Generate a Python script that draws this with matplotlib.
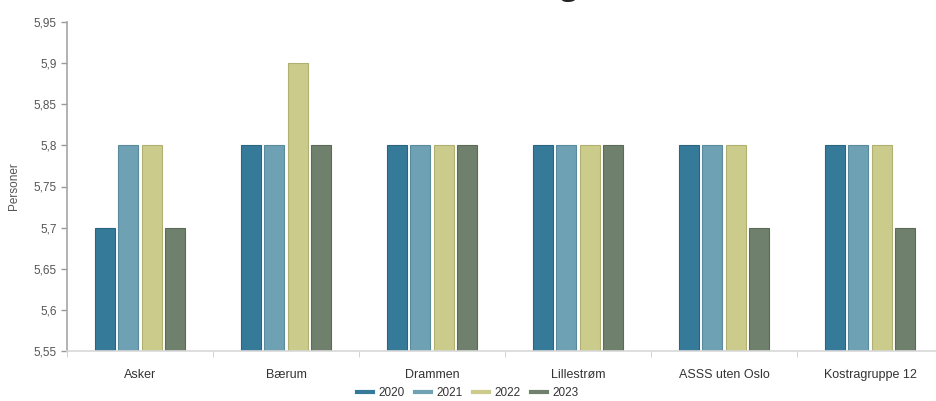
import matplotlib
matplotlib.use("Agg")
import matplotlib.pyplot as plt
from matplotlib.lines import Line2D
import numpy as np

# Data
categories = ["Asker", "Bærum", "Drammen", "Lillestrøm", "ASSS uten Oslo", "Kostragruppe 12"]
years = ["2020", "2021", "2022", "2023"]
v2020 = [5.7, 5.8, 5.8, 5.8, 5.8, 5.8]
v2021 = [5.8, 5.8, 5.8, 5.8, 5.8, 5.8]
v2022 = [5.8, 5.9, 5.8, 5.8, 5.8, 5.8]
v2023 = [5.7, 5.8, 5.8, 5.8, 5.7, 5.7]
yticks = [5.55, 5.6, 5.65, 5.7, 5.75, 5.8, 5.85, 5.9, 5.95]

COLORS = ["#367a9a", "#6fa1b4", "#cbcb8b", "#6f806c"]
EDGES = ["#2a6580", "#5b8a9c", "#b0b072", "#5c6b59"]

plt.rcParams['font.family'] = ['Liberation Sans', 'DejaVu Sans']

fig = plt.figure(figsize=(9.36, 4.01), dpi=100)
ax = fig.add_axes([67 / 936, 50 / 401, 876 / 936, 329 / 401])

series = [v2020, v2021, v2022, v2023]
x = np.arange(len(categories))
pitch = 0.158
width = 0.137
for i, vals in enumerate(series):
    offs = (i - 1.5) * pitch
    ax.bar(x + offs, np.array(vals) - 5.55, bottom=5.55, width=width,
           color=COLORS[i], edgecolor=EDGES[i], linewidth=0.8, zorder=2)

ax.set_xlim(-0.5, len(categories) - 0.5)
ax.set_ylim(5.55, 5.95)
ax.set_yticks(yticks)
ax.set_yticklabels([("%g" % t).replace(".", ",") for t in yticks])
ax.tick_params(axis='y', colors="#999999", labelcolor="#555555", labelsize=8.5,
               length=4, width=1)

ax.set_xticks(x)
ax.set_xticklabels(categories)
ax.tick_params(axis='x', length=0, labelsize=9, labelcolor="#333333", pad=13)
ax.set_xticks(np.arange(len(categories) + 1) - 0.5, minor=True)
ax.tick_params(axis='x', which='minor', length=4, color="#cccccc")

for s in ["top", "right"]:
    ax.spines[s].set_visible(False)
ax.spines["left"].set_color("#a6a6a6")
ax.spines["left"].set_linewidth(1.2)
ax.spines["bottom"].set_color("#d8d8d8")
ax.spines["bottom"].set_linewidth(1.2)

ax.set_ylabel("Personer", fontsize=8.5, color="#555555", labelpad=10)

handles = [Line2D([0], [0], color=c, lw=3) for c in COLORS]
fig.legend(handles, years, loc="lower center", bbox_to_anchor=(0.5, -0.022),
           ncol=4, frameon=False, fontsize=8.5, handlelength=1.3,
           handletextpad=0.5, columnspacing=0.9, labelcolor="#333333")

# title sits above the visible area, only its descenders show
fig.text(649 / 936, 1.0 + 5 / 401, "Personer i husholdninger (x)", ha="right",
         va="baseline", fontsize=22, family="Open Sans", color="#222222")

fig.savefig("out.png", dpi=100)
